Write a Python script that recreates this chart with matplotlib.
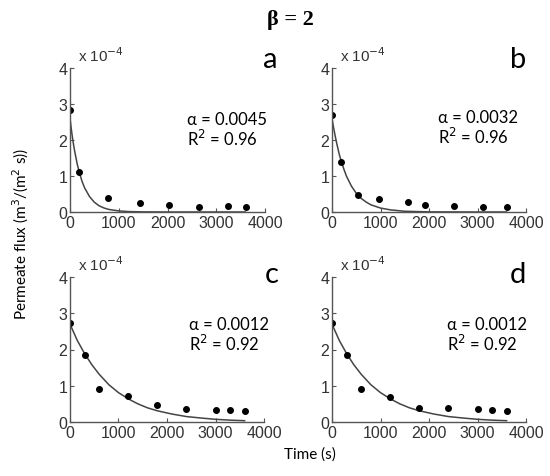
import numpy as np
import matplotlib
matplotlib.use("Agg")
import matplotlib.pyplot as plt

# measured points (time in s, flux in 1e-4 m3/(m2 s))
t_a = [0, 180, 780, 1440, 2040, 2640, 3240, 3600]
j_a = [2.82, 1.11, 0.40, 0.25, 0.19, 0.14, 0.17, 0.14]
t_b = [0, 180, 540, 960, 1560, 1920, 2520, 3120, 3600]
j_b = [2.70, 1.40, 0.47, 0.35, 0.27, 0.20, 0.18, 0.15, 0.15]
t_c = [0, 300, 600, 1200, 1800, 2400, 3000, 3300, 3600]
j_c = [2.73, 1.84, 0.91, 0.71, 0.48, 0.36, 0.32, 0.32, 0.29]
t_d = [0, 300, 600, 1200, 1800, 2400, 3000, 3300, 3600]
j_d = [2.73, 1.84, 0.91, 0.68, 0.39, 0.39, 0.36, 0.33, 0.29]

# fitted curves
ft_ab = [0, 25, 50, 75, 100, 150, 200, 250, 300, 400, 500, 600, 700, 800, 1000, 1200, 1500, 2000, 3000, 3600]
fj_a = [2.60, 2.32, 2.07, 1.85, 1.66, 1.32, 1.06, 0.84, 0.67, 0.43, 0.27, 0.17, 0.11, 0.07, 0.03, 0.012, 0.003, 0.0, 0.0, 0.0]
fj_b = [2.60, 2.40, 2.22, 2.05, 1.89, 1.60, 1.37, 1.17, 0.99, 0.72, 0.52, 0.38, 0.28, 0.20, 0.11, 0.06, 0.02, 0.004, 0.0, 0.0]
ft_cd = [0, 150, 300, 450, 600, 800, 1000, 1200, 1400, 1600, 1800, 2100, 2400, 2700, 3000, 3300, 3600]
fj_cd = [2.70, 2.25, 1.89, 1.58, 1.32, 1.03, 0.81, 0.64, 0.50, 0.39, 0.31, 0.22, 0.15, 0.11, 0.074, 0.051, 0.036]

panels = [
    ("a", t_a, j_a, ft_ab, fj_a, "0.0045", "0.96"),
    ("b", t_b, j_b, ft_ab, fj_b, "0.0032", "0.96"),
    ("c", t_c, j_c, ft_cd, fj_cd, "0.0012", "0.92"),
    ("d", t_d, j_d, ft_cd, fj_cd, "0.0012", "0.92"),
]

W, H = 550, 477
fig = plt.figure(figsize=(W / 100, H / 100), dpi=100)

tick_font = ["Liberation Sans Narrow", "Liberation Sans", "DejaVu Sans"]
txt_font = ["Lato", "DejaVu Sans"]

# axes boxes in pixels: x0, x4000, y0 (bottom), y4 (top)
boxes = [(70, 265, 213, 69), (332, 526, 213, 69),
         (70, 264, 423, 278), (332, 526, 423, 278)]
# panel letter (left, baseline) and alpha text (left, y line1) in pixels
letter_pos = [(263, 68), (510, 68), (265, 283), (510, 283)]
alpha_pos = [(187, 120), (438, 118), (189, 325), (447, 325)]

axc = "#555555"
for i, (lab, t, j, ft, fj, alpha, r2) in enumerate(panels):
    x0, x1, yb, yt = boxes[i]
    ax = fig.add_axes([x0 / W, 1 - yb / H, (x1 - x0) / W, (yb - yt) / H])
    ax.plot(ft, np.array(fj) * 1e-4, color="#444444", lw=1.1)
    ax.plot(t, np.array(j) * 1e-4, "o", color="black", ms=4)
    ax.set_xlim(0, 4000)
    ax.set_ylim(0, 4e-4)
    ax.set_xticks([0, 1000, 2000, 3000, 4000])
    ax.set_yticks(np.arange(5) * 1e-4)
    ax.set_yticklabels(["0", "1", "2", "3", "4"])
    for s in ("top", "right"):
        ax.spines[s].set_visible(False)
    for s in ("left", "bottom"):
        ax.spines[s].set_color(axc)
        ax.spines[s].set_linewidth(1.0)
    ax.tick_params(direction="in", length=3, color=axc, labelcolor="#333333",
                   labelsize=11.5, pad=2)
    for tl in ax.get_xticklabels() + ax.get_yticklabels():
        tl.set_family(tick_font)
    ax.patch.set_visible(False)
    ax.text(0.04, 1.03, r"x 10$^{-4}$", transform=ax.transAxes, fontsize=11,
            family=tick_font, color="#333333", va="bottom", ha="left")

    lx, ly = letter_pos[i]
    fig.text(lx / W, 1 - ly / H, lab, fontsize=21, family=txt_font,
             ha="left", va="baseline")
    axx, axy = alpha_pos[i]
    fig.text(axx / W, 1 - axy / H, "\u03b1 = " + alpha, fontsize=12,
             family=txt_font, va="center")
    fig.text(axx / W, 1 - (axy + 19) / H, "R$^2$ = " + r2, fontsize=12,
             family=txt_font, va="center")

fig.text(290 / W, 1 - 20 / H, "\u03b2 = 2", ha="center", va="center",
         fontsize=16, fontweight="bold", family=["Liberation Serif", "DejaVu Serif"])
fig.text(21 / W, 1 - 234 / H, "Permeate flux (m$^3$/(m$^2$ s))", rotation=90,
         ha="center", va="center", fontsize=11, family=txt_font)
fig.text(310 / W, 1 - 455 / H, "Time (s)", ha="center", va="center",
         fontsize=11, family=txt_font)

fig.savefig("out.png", dpi=100)
